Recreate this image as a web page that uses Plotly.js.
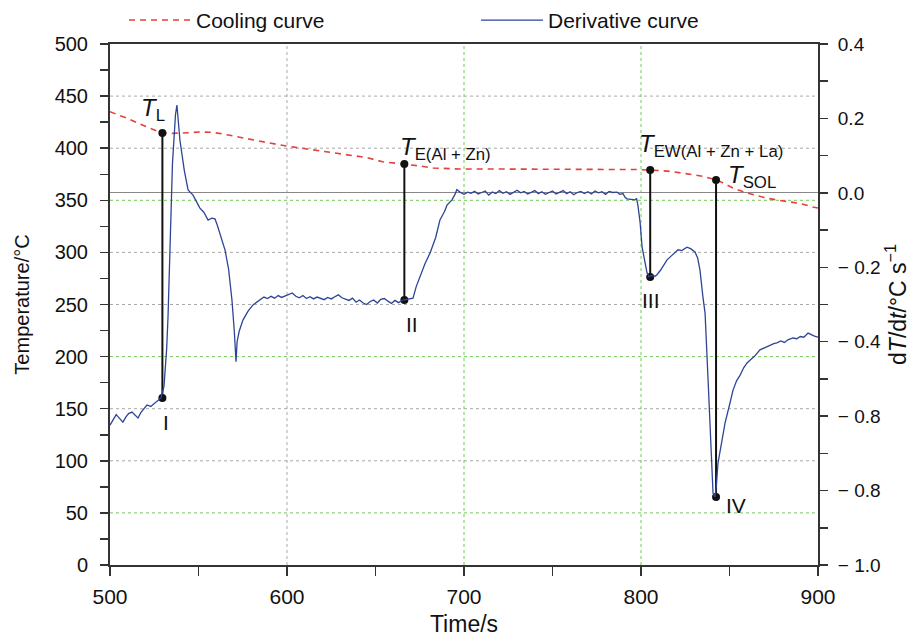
<!DOCTYPE html>
<html><head><meta charset="utf-8">
<script src="https://cdn.plot.ly/plotly-3.0.1.min.js"></script>
<style>html,body{margin:0;padding:0;background:#fff}#chart{width:914px;height:637px}</style>
</head><body><div id="chart"></div>
<script>
// Cooling curve (Temperature, °C, left axis)
const coolTime = [500,510,520,524,529.4,535,540,545,551,558,564,572,579,590,600,610,620,636,645,654,660,666.7,675,682.5,690,697.7,720,748.6,770,797.7,805.6,815,823.7,835,842.9,847,852,860,871,884,890,897,900];
const coolTemp = [435,428.5,421,418,414.6,414.2,414.4,414.9,415.6,415.2,413.6,411,408,405,402,399.5,397,393.5,391,387,386,384.8,383,381,380.3,380,380,380,379.8,379.5,379,378,376,373,369.5,366,361.8,357,352,348.4,347,343.5,342.6];

// Derivative curve (dT/dt, °C/s, right axis)
const derivTime = [500,502,503.5,505,507.3,509,510.5,512.4,514,515.8,517.5,519,520.9,523,525.4,527,528.8,
  530.5,532,532.8,533.9,535.3,537,537.8,539.5,542,544.1,546.9,549,550.8,553,555.4,557.5,559.3,560.5,562.1,565,567,568.9,570.2,571.2,571.8,573,575.1,578,580.8,584.7,
  587,589,591,593,595,597,599,601,603,605,607,609,611,613,615,617,619,621,623,625,627,629,631,633,635,637,639,641,643,645,647,649,651,653,655,657,659,661,663,665.5,668,671.2,673,675.1,678,680.8,684,686.4,689,690.4,693.2,694.9,696,697.7,
  700,702,704,706,708,710,712,714,716,718,720,722,724,726,728,730,732,734,736,738,740,742,744,746,748,750,752,754,756,758,760,762,764,766,768,770,772,774,776,778,780,782,784,786.4,788,789.8,791,792.1,794,796.6,797.5,798.3,799.5,800.6,802,803.4,804.5,806,808,809,811,813,814.7,817,819,820.9,823,825,826,828,830.5,832,833.3,835,836.2,837.9,839.5,840.7,841.8,842.5,843.5,845.5,847.5,850,852,854,856,858,859.9,862,864,867.2,869,871,873,875,876.8,879,881,883,885.9,888,890,892,894.4,896,898,900];
const derivRate = [-0.624,-0.606,-0.596,-0.604,-0.616,-0.602,-0.593,-0.589,-0.597,-0.605,-0.590,-0.580,-0.570,-0.574,-0.565,-0.560,-0.551,
  -0.52,-0.42,-0.33,-0.12,0.08,0.21,0.236,0.142,0.06,0.008,-0.006,-0.025,-0.041,-0.052,-0.073,-0.068,-0.070,-0.085,-0.108,-0.154,-0.205,-0.288,-0.370,-0.454,-0.400,-0.372,-0.342,-0.318,-0.301,-0.288,
  -0.280,-0.284,-0.278,-0.283,-0.276,-0.281,-0.277,-0.272,-0.269,-0.278,-0.282,-0.276,-0.284,-0.279,-0.285,-0.280,-0.283,-0.287,-0.281,-0.285,-0.279,-0.274,-0.282,-0.286,-0.289,-0.283,-0.294,-0.288,-0.296,-0.300,-0.292,-0.288,-0.296,-0.286,-0.284,-0.291,-0.297,-0.289,-0.295,-0.288,-0.286,-0.283,-0.252,-0.226,-0.190,-0.162,-0.120,-0.073,-0.050,-0.033,-0.019,-0.004,0.009,0.002,
  -0.004,0.002,-0.001,0.004,-0.003,0.001,0.005,-0.006,0.002,-0.002,0.006,-0.001,0.003,-0.004,0.002,0.007,0.000,0.004,-0.003,0.002,0.006,-0.002,0.003,-0.004,0.001,0.005,-0.003,0.002,0.006,-0.002,0.003,-0.005,0.001,0.004,-0.002,0.003,-0.003,0.005,0.000,0.003,-0.004,0.004,0.001,0.002,-0.004,-0.002,-0.012,-0.016,-0.018,-0.019,-0.015,-0.035,-0.080,-0.145,-0.180,-0.215,-0.226,-0.222,-0.224,-0.220,-0.208,-0.192,-0.180,-0.170,-0.160,-0.153,-0.155,-0.148,-0.146,-0.150,-0.159,-0.175,-0.207,-0.280,-0.323,-0.503,-0.683,-0.807,-0.817,-0.790,-0.726,-0.670,-0.618,-0.570,-0.530,-0.505,-0.490,-0.470,-0.457,-0.448,-0.440,-0.422,-0.418,-0.413,-0.410,-0.405,-0.403,-0.398,-0.402,-0.395,-0.390,-0.392,-0.386,-0.388,-0.377,-0.381,-0.385,-0.388];

// Characteristic points
const eventNames = ['L','E(Al + Zn)','EW(Al + Zn + La)','SOL'];
const eventRoman = ['I','II','III','IV'];
const eventTime = [529.6,666.3,805.2,842.4];
const eventTemp = [414.6,384.8,379.0,369.5];
const eventRate = [-0.551,-0.288,-0.226,-0.817];

// Axis ticks / grid
const leftRange = [0,500];
const rightRange = [-1.0,0.4];
const rightTickVals = [-1.0,-0.8,-0.6,-0.4,-0.2,0.0,0.2,0.4];
const rightTickText = ['\u2212 1.0','\u2212 0.8','\u2212 0.8','\u2212 0.4','\u2212 0.2','0.0','0.2','0.4'];
const gridGrayY = [100,150,250,300,400,450];
const gridGreenY = [50,200,350];
const gridGrayX = [600];
const gridGreenX = [700,800];

const toLeft = r => leftRange[0] + (r - rightRange[0])/(rightRange[1]-rightRange[0])*(leftRange[1]-leftRange[0]);

const traces = [
  {x: coolTime, y: coolTemp, name: 'Cooling curve', type:'scatter', mode:'lines', yaxis:'y',
   line:{color:'#e5413a', width:1.6, dash:'6px,5px'}},
  {x: derivTime, y: derivRate, name: 'Derivative curve', type:'scatter', mode:'lines', yaxis:'y2',
   line:{color:'#2e4596', width:1.3}}
];
eventTime.forEach((t,i)=>{
  traces.push({x:[t,t], y:[eventTemp[i], toLeft(eventRate[i])], type:'scatter', mode:'lines+markers', yaxis:'y',
    showlegend:false, hoverinfo:'skip', line:{color:'#111', width:2}, marker:{color:'#111', size:8}});
});

const shapes = [];
const gl = (axis, v, color) => axis==='y'
  ? {type:'line', xref:'paper', x0:0, x1:1, yref:'y', y0:v, y1:v, layer:'below', line:{color, width:1, dash:'3px,3px'}}
  : {type:'line', yref:'paper', y0:0, y1:1, xref:'x', x0:v, x1:v, layer:'below', line:{color, width:1, dash:'3px,3px'}};
gridGrayY.forEach(v=>shapes.push(gl('y',v,'#a9a9a9')));
gridGreenY.forEach(v=>shapes.push(gl('y',v,'#72c95a')));
gridGrayX.forEach(v=>shapes.push(gl('x',v,'#a9a9a9')));
gridGreenX.forEach(v=>shapes.push(gl('x',v,'#72c95a')));

const F = 'Liberation Sans, Arial, sans-serif';
const labelShift = [[-9,23,'center'],[-6,16,'left'],[-13,25,'left'],[10,3,'left']];
const romanShift = [[4,-25],[8,-24],[1,-24],[20,-9]];
const annotations = [];
eventTime.forEach((t,i)=>{
  annotations.push({x:t, y:eventTemp[i], xref:'x', yref:'y', showarrow:false,
    text:'<i>T</i><sub>'+eventNames[i]+'</sub>', xanchor:labelShift[i][2], yanchor:'middle',
    xshift:labelShift[i][0], yshift:labelShift[i][1], font:{family:F, size:24, color:'#111'}});
  annotations.push({x:t, y:toLeft(eventRate[i]), xref:'x', yref:'y', showarrow:false,
    text:eventRoman[i], xanchor:'center', yanchor:'middle',
    xshift:romanShift[i][0], yshift:romanShift[i][1], font:{family:F, size:21, color:'#111'}});
});

const layout = {
  width:914, height:637,
  margin:{l:110, r:96, t:44, b:72, autoexpand:false},
  paper_bgcolor:'#fff', plot_bgcolor:'#fff',
  showlegend:true,
  legend:{orientation:'h', xref:'container', yref:'container', x:0.1357, xanchor:'left', y:0.968, yanchor:'middle',
    font:{family:F, size:21, color:'#111'}, itemwidth:62, entrywidth:275, entrywidthmode:'pixels',
    bgcolor:'rgba(0,0,0,0)'},
  xaxis:{range:[500,900], tickvals:[500,600,700,800,900], showgrid:false, zeroline:false,
    showline:true, linecolor:'#333', linewidth:2, mirror:true,
    ticks:'outside', ticklen:9, tickwidth:1.5, tickcolor:'#333', ticklabelstandoff:3,
    minor:{tickvals:[550,650,750,850], ticks:'outside', ticklen:9, tickwidth:1.5, tickcolor:'#333', showgrid:false},
    tickfont:{family:F, size:21, color:'#111'},
    title:{text:'Time/s', font:{family:F, size:23, color:'#111'}, standoff:10}},
  yaxis:{range:leftRange, tickvals:[0,50,100,150,200,250,300,350,400,450,500], showgrid:false, zeroline:false,
    showline:true, linecolor:'#333', linewidth:2,
    ticks:'outside', ticklen:8, tickwidth:1.5, tickcolor:'#333', ticklabelstandoff:8,
    minor:{tickvals:[25,75,125,175,225,275,325,375,425,475], ticks:'outside', ticklen:8, tickwidth:1.5, tickcolor:'#333', showgrid:false},
    tickfont:{family:F, size:20, color:'#111'},
    title:{text:'Temperature/\u00b0C', font:{family:F, size:20, color:'#111'}, standoff:20}},
  yaxis2:{range:rightRange, overlaying:'y', side:'right', tickvals:rightTickVals, ticktext:rightTickText,
    showgrid:false, zeroline:true, zerolinecolor:'#888', zerolinewidth:1,
    showline:true, linecolor:'#333', linewidth:2,
    ticks:'outside', ticklen:8, tickwidth:1.5, tickcolor:'#333', ticklabelstandoff:6,
    minor:{tickvals:[-0.9,-0.7,-0.5,-0.3,-0.1,0.1,0.3], ticks:'outside', ticklen:8, tickwidth:1.5, tickcolor:'#333', showgrid:false},
    tickfont:{family:F, size:19, color:'#111'},
    title:{text:'d<i>T</i>/d<i>t</i>/\u00b0C s<sup>\u22121</sup>', font:{family:F, size:23, color:'#111'}, standoff:8}},
  shapes, annotations
};
Plotly.newPlot('chart', traces, layout, {displayModeBar:false, staticPlot:true});
</script></body></html>
